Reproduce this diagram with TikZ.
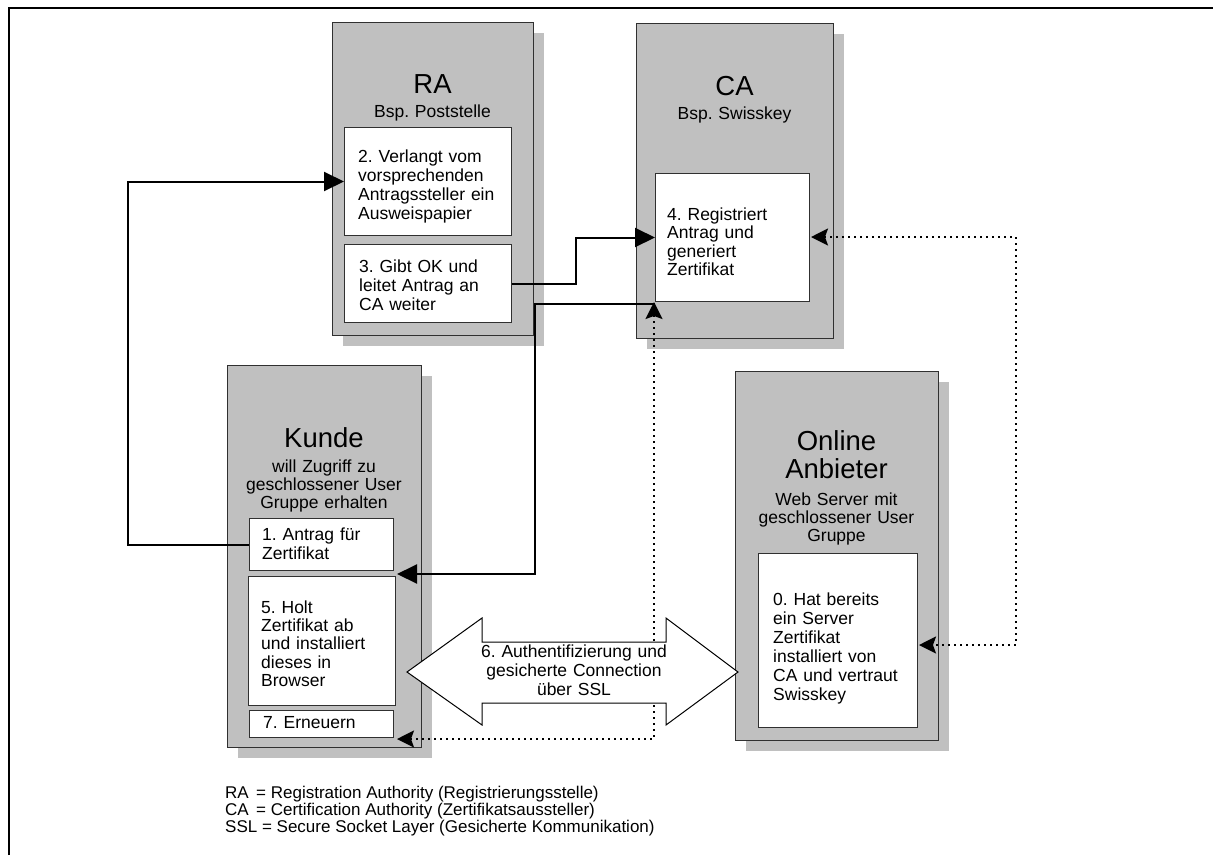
\documentclass[tikz,border=0pt]{standalone}
\usepackage{fontspec}
\setmainfont{Liberation Sans}
\usetikzlibrary{arrows.meta}
\definecolor{boxgray}{HTML}{C0C0C0}
\definecolor{edge}{HTML}{303030}
\frenchspacing
\begin{document}
\begin{tikzpicture}[x=1pt,y=-1pt,
  panel/.style={draw=edge, line width=1pt, fill=boxgray, inner sep=0pt, anchor=north west},
  cell/.style={draw=edge, line width=1pt, fill=white, inner sep=0pt, anchor=north west},
  title/.style={inner sep=0pt, anchor=base, align=center, text width=200pt,
    font=\fontsize{27.5}{28}\selectfont},
  subtitle/.style={inner sep=0pt, anchor=base, align=center, text width=200pt,
    font=\fontsize{17.5}{18.2}\selectfont},
  body/.style={inner sep=0pt, anchor=base west, align=left, text width=200pt,
    font=\fontsize{17.5}{#1}\selectfont},
  body/.default=19,
  legend/.style={inner sep=0pt, anchor=base west, font=\fontsize{17}{17}\selectfont},
  flow/.style={line width=2pt, arrows={-Triangle[length=20pt,width=19pt]}},
  trust/.style={line width=2pt, dash pattern=on 2pt off 4pt,
    arrows={Stealth[length=17pt,width=17pt,inset=3pt]-Stealth[length=17pt,width=17pt,inset=3pt]}},
]
\useasboundingbox (0,0) rectangle (1213,855);
\fill[white] (0,0) rectangle (1213,855);
% page frame (only top and left edges are shown)
\draw[line width=2pt] (9,855) -- (9,7.5) -- (1213,7.5);

% drop shadows of the four parties
\fill[boxgray] (343,33) rectangle (544,346);
\fill[boxgray] (647,34) rectangle (844,349);
\fill[boxgray] (238,376) rectangle (432,758);
\fill[boxgray] (746,382) rectangle (949,751);

% parties
\node[panel, minimum width=201pt, minimum height=313pt] (ra) at (332,22) {};
\node[panel, minimum width=197pt, minimum height=315pt] (ca) at (636,23) {};
\node[panel, minimum width=194pt, minimum height=382pt] (kunde) at (227,365) {};
\node[panel, minimum width=203pt, minimum height=369pt] (anbieter) at (735,371) {};

% steps
\node[cell, minimum width=167pt, minimum height=108pt] (s2) at (344,127) {};
\node[cell, minimum width=167pt, minimum height=78pt] (s3) at (344,244) {};
\node[cell, minimum width=154pt, minimum height=128pt] (s4) at (655,173) {};
\node[cell, minimum width=144pt, minimum height=52pt] (s1) at (249,518) {};
\node[cell, minimum width=147pt, minimum height=129pt] (s5) at (248,576) {};
\node[cell, minimum width=144pt, minimum height=27pt] (s7) at (249,710) {};
\node[cell, minimum width=159pt, minimum height=174pt] (s0) at (758,553) {};

% titles
\node[title] (ratitle) at (432.5,93) {RA};
\node[subtitle] (rasub) at (432.5,117) {Bsp. Poststelle};
\node[title] (catitle) at (734.5,95) {CA};
\node[subtitle] (casub) at (734.5,119) {Bsp. Swisskey};
\node[title] (kundetitle) at (324,447) {Kunde};
\node[subtitle] (kundesub) at (324,472) {will Zugriff zu\\geschlossener User\\Gruppe erhalten};
\node[title] (antitle) at (836.5,450) {Online\\Anbieter};
\node[subtitle] (ansub) at (836.5,505) {Web Server mit\\geschlossener User\\Gruppe};

% step texts
\node[body] (t2) at (358,162) {2. Verlangt vom\\vorsprechenden\\Antragssteller ein\\Ausweispapier};
\node[body] (t3) at (359,272) {3. Gibt OK und\\leitet Antrag an\\CA weiter};
\node[body=18.5] (t4) at (667,220) {4. Registriert\\Antrag und\\generiert\\Zertifikat};
\node[body] (t1) at (262,540) {1. Antrag für\\Zertifikat};
\node[body=18.4] (t5) at (261,613) {5. Holt\\Zertifikat ab\\und installiert\\dieses in\\Browser};
\node[body] (t7) at (263,728) {7. Erneuern};
\node[body] (t0) at (773,605) {0. Hat bereits\\ein Server\\Zertifikat\\installiert von\\CA und vertraut\\Swisskey};

% free ends of connectors
\coordinate (c3s) at (655,304);
\coordinate (c3e) at (397,574);
\coordinate (d1s) at (811,237);
\coordinate (d1e) at (919,645);
\coordinate (d2s) at (654,302);
\coordinate (d2e) at (397,739);

% trust relations (dotted)
\draw[trust] (d1s) -- ++(205,0) |- (d1e);
\draw[trust] (d2s) |- (d2e);

% SSL connection
\draw[line width=1pt, fill=white, line join=miter]
  (407,672) -- (482,618) -- (482,642) -- (666,642) -- (666,618) -- (738,672)
  -- (666,725) -- (666,703) -- (482,703) -- (482,725) -- cycle;
\node[subtitle, font=\fontsize{17.5}{19.3}\selectfont] (t6) at (574,657)
  {6. Authentifizierung und\\gesicherte Connection\\über SSL};

% request flow
\draw[flow] (s1.west) -- ++(-121,0) |- (s2.west);
\draw[flow] (s3.east) -- ++(64,0) |- (s4.west);
\draw[flow] (c3s) -- ++(-120,0) |- (c3e);

% abbreviations
\node[legend] (l1) at (225,798) {\makebox[31pt][l]{RA}= Registration Authority (Registrierungsstelle)};
\node[legend] (l2) at (225,815) {\makebox[31pt][l]{CA}= Certification Authority (Zertifikatsaussteller)};
\node[legend] (l3) at (225,832) {SSL = Secure Socket Layer (Gesicherte Kommunikation)};
\end{tikzpicture}
\end{document}
